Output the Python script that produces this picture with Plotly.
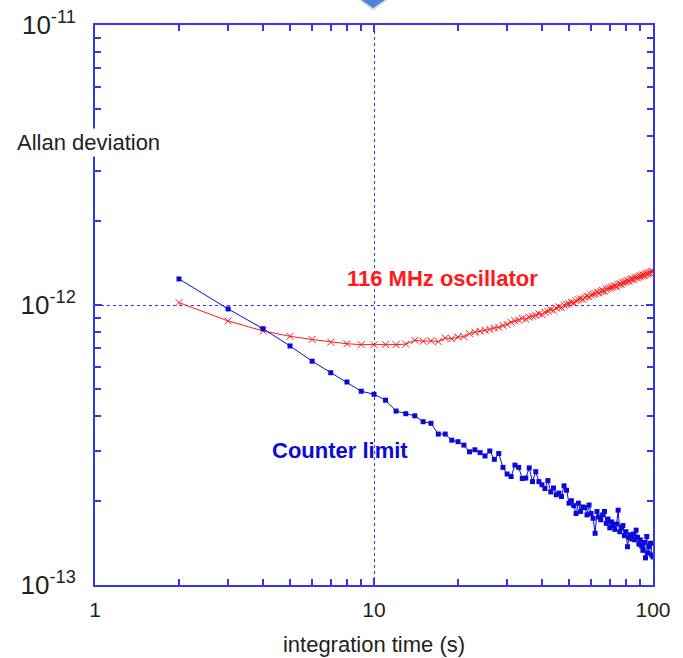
import plotly.graph_objects as go

# integration times (s)
tau = list(range(2, 101))

# Allan deviation of the 116 MHz oscillator (units of 1e-12)
osc_adev = [
    1.020, 0.877, 0.808, 0.773, 0.753, 0.737, 0.727, 0.722, 0.721,
    0.722, 0.722, 0.725, 0.748, 0.742, 0.745, 0.740, 0.762, 0.758, 0.768,
    0.771, 0.790, 0.800, 0.806, 0.812, 0.818, 0.828, 0.832, 0.845, 0.852,
    0.868, 0.878, 0.882, 0.895, 0.890, 0.905, 0.912, 0.918, 0.930, 0.925,
    0.942, 0.950, 0.962, 0.958, 0.975, 0.985, 0.980, 0.998, 1.005, 1.010,
    1.022, 1.018, 1.035, 1.045, 1.052, 1.048, 1.065, 1.075, 1.070, 1.085,
    1.092, 1.098, 1.110, 1.105, 1.118, 1.125, 1.120, 1.138, 1.145, 1.150,
    1.158, 1.162, 1.170, 1.165, 1.182, 1.190, 1.186, 1.200, 1.208, 1.212,
    1.220, 1.218, 1.232, 1.238, 1.235, 1.248, 1.255, 1.250, 1.262, 1.268,
    1.272, 1.280, 1.276, 1.288, 1.292, 1.298, 1.305, 1.300, 1.315, 1.318,
]

# Allan deviation floor of the frequency counter (units of 1e-12)
counter_adev = [
    1.239, 0.968, 0.823, 0.714, 0.630, 0.573, 0.531, 0.492, 0.480,
    0.457, 0.418, 0.409, 0.402, 0.383, 0.378, 0.346, 0.346, 0.329, 0.325,
    0.316, 0.299, 0.304, 0.297, 0.289, 0.301, 0.281, 0.295, 0.263, 0.249,
    0.244, 0.268, 0.263, 0.240, 0.241, 0.262, 0.234, 0.254, 0.234, 0.228,
    0.221, 0.236, 0.215, 0.222, 0.210, 0.213, 0.207, 0.226, 0.218, 0.196,
    0.200, 0.192, 0.180, 0.196, 0.183, 0.190, 0.189, 0.178, 0.193, 0.180,
    0.173, 0.153, 0.183, 0.175, 0.171, 0.178, 0.183, 0.166, 0.172, 0.160,
    0.168, 0.163, 0.158, 0.165, 0.185, 0.155, 0.160, 0.163, 0.150, 0.155,
    0.137, 0.148, 0.151, 0.146, 0.152, 0.145, 0.157, 0.148, 0.140, 0.145,
    0.138, 0.133, 0.142, 0.125, 0.149, 0.130, 0.137, 0.141, 0.128, 0.126,
]

x_major = [1, 10, 100]
x_major_text = ["1", "10", "100"]
x_minor = [2, 3, 4, 5, 6, 7, 8, 9, 20, 30, 40, 50, 60, 70, 80, 90]
y_major = [1e-13, 1e-12, 1e-11]
y_major_text = ["10<sup>-13</sup>", "10<sup>-12</sup>", "10<sup>-11</sup>"]
y_minor = [k * 1e-13 for k in range(2, 10)] + [k * 1e-12 for k in range(2, 10)]

SCALE = 1e-12
AXIS_BLUE = "#3535ee"
GRID_BLUE = "#3030ff"
SERIES_BLUE = "#0a0ad8"
SERIES_RED = "#ff1a1a"

fig = go.Figure()

fig.add_trace(go.Scatter(
    x=tau, y=[v * SCALE for v in osc_adev],
    mode="lines+markers",
    line=dict(color=SERIES_RED, width=1),
    marker=dict(symbol="x-thin", size=7, line=dict(color=SERIES_RED, width=1)),
    name="116 MHz oscillator",
))

fig.add_trace(go.Scatter(
    x=tau, y=[v * SCALE for v in counter_adev],
    mode="lines+markers",
    line=dict(color=SERIES_BLUE, width=1),
    marker=dict(symbol="square", size=5, color=SERIES_BLUE),
    name="Counter limit",
))

fig.update_layout(
    width=683, height=658,
    margin=dict(l=95, r=30, t=25, b=73),
    paper_bgcolor="white", plot_bgcolor="white",
    showlegend=False,
    font=dict(family="Liberation Sans, Arial, sans-serif", color="#222222"),
)

fig.update_xaxes(
    type="log", range=[0, 2], automargin=False,
    tickvals=x_major, ticktext=x_major_text,
    ticks="inside", ticklen=7, tickwidth=1.5, tickcolor=AXIS_BLUE,
    ticklabelstandoff=5,
    tickfont=dict(size=21, color="#222222"),
    showline=True, linecolor=AXIS_BLUE, linewidth=2, mirror="ticks",
    showgrid=True, gridcolor=GRID_BLUE, gridwidth=1, griddash="dot",
    zeroline=False,
    minor=dict(tickvals=x_minor, ticks="inside", ticklen=6, tickwidth=1.5,
               tickcolor=AXIS_BLUE, showgrid=False),
    title=dict(text="integration time (s)", font=dict(size=22, color="#222222"),
               standoff=16),
)

fig.update_yaxes(
    type="log", range=[-13, -11], automargin=False,
    tickvals=y_major, ticktext=y_major_text,
    ticks="inside", ticklen=7, tickwidth=1.5, tickcolor=AXIS_BLUE,
    ticklabelstandoff=12,
    tickfont=dict(size=26, color="#222222"),
    showline=True, linecolor=AXIS_BLUE, linewidth=2, mirror="ticks",
    showgrid=True, gridcolor=GRID_BLUE, gridwidth=1, griddash="dot",
    zeroline=False,
    minor=dict(tickvals=y_minor, ticks="inside", ticklen=6, tickwidth=1.5,
               tickcolor=AXIS_BLUE, showgrid=False),
)

# y-axis caption sitting over the left frame line
fig.add_annotation(
    text="Allan deviation", xref="paper", yref="paper",
    x=-0.011, y=0.790, xanchor="center", yanchor="middle",
    showarrow=False, bgcolor="white", borderpad=1,
    font=dict(size=22, color="#222222"),
)

# series labels (positions in log10 data units)
fig.add_annotation(
    text="<b>116 MHz oscillator</b>", x=1.244, y=-11.904,
    showarrow=False, font=dict(size=22, color=SERIES_RED),
)
fig.add_annotation(
    text="<b>Counter limit</b>", x=0.878, y=-12.521,
    showarrow=False, font=dict(size=22, color=SERIES_BLUE),
)

# pointer tab at the top edge, with a soft shadow
fig.add_shape(
    type="path", xref="paper", yref="paper",
    path="M 0.452 1.06 L 0.545 1.06 L 0.4985 1.025 Z",
    fillcolor="rgba(0,0,0,0.12)", line=dict(width=0), layer="above",
)
fig.add_shape(
    type="path", xref="paper", yref="paper",
    path="M 0.458 1.058 L 0.539 1.058 L 0.4985 1.030 Z",
    fillcolor="#4a87d6", line=dict(width=0), layer="above",
)

fig.write_html("out.html")
